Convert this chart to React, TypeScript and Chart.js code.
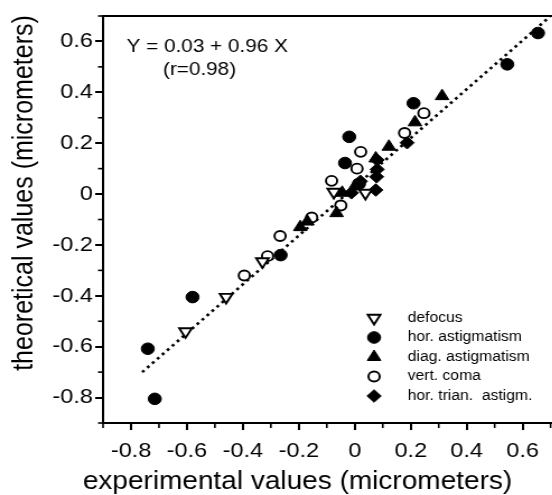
import React, { useEffect, useRef } from 'react';
import { Chart, registerables } from 'chart.js';

Chart.register(...registerables);

// ---- data ----
const defocusX = [-0.605, -0.46, -0.33, -0.075, 0.038];
const defocusY = [-0.54, -0.405, -0.265, 0.008, 0.004];

const horAstigX = [-0.74, -0.715, -0.58, -0.265, -0.035, -0.02, 0.015, 0.21, 0.545, 0.655];
const horAstigY = [-0.608, -0.805, -0.405, -0.24, 0.122, 0.225, 0.04, 0.357, 0.51, 0.633];

const diagAstigX = [-0.195, -0.17, -0.065, -0.045, 0.0, 0.075, 0.122, 0.215, 0.312];
const diagAstigY = [-0.13, -0.108, -0.075, 0.005, 0.03, 0.14, 0.186, 0.282, 0.385];

const vertComaX = [-0.395, -0.312, -0.267, -0.154, -0.083, -0.05, 0.008, 0.021, 0.178, 0.247];
const vertComaY = [-0.32, -0.244, -0.165, -0.092, 0.052, -0.045, 0.1, 0.166, 0.24, 0.318];

const horTrianX = [-0.012, 0.02, 0.075, 0.078, 0.08, 0.08, 0.187];
const horTrianY = [0.005, 0.05, 0.016, 0.068, 0.097, 0.134, 0.202];

const fitX = [-0.76, 0.7];
const fitY = [-0.7, 0.7];

const legendLabels = ['defocus', 'hor. astigmatism', 'diag. astigmatism', 'vert. coma', 'hor. trian.  astigm.'];

const xMajorTicks = [-0.8, -0.6, -0.4, -0.2, 0, 0.2, 0.4, 0.6];
const yMajorTicks = [-0.8, -0.6, -0.4, -0.2, 0, 0.2, 0.4, 0.6];
const xMinorTicks = [-0.9, -0.7, -0.5, -0.3, -0.1, 0.1, 0.3, 0.5, 0.7];
const yMinorTicks = [-0.9, -0.7, -0.5, -0.3, -0.1, 0.1, 0.3, 0.5, 0.7];

const equationText = 'Y = 0.03 + 0.96 X';
const corrText = '(r=0.98)';
const xTitle = 'experimental values (micrometers)';
const yTitle = 'theoretical values (micrometers)';

// ---- layout / style ----
const FONT = '"Liberation Sans", Arial, Helvetica, sans-serif';
const CW = 500;
const CH = 495;
const STRETCH = 1.12;

const toPts = (xs: number[], ys: number[]) => xs.map((x, i) => ({ x, y: ys[i] }));

type Marker = { style: string; r: number; fill: boolean; rot: number; bw: number };
const markers: Marker[] = [
  { style: 'triangle', r: 6.5, fill: false, rot: 180, bw: 1.9 },
  { style: 'circle', r: 5.8, fill: true, rot: 0, bw: 1 },
  { style: 'triangle', r: 7, fill: true, rot: 0, bw: 1 },
  { style: 'circle', r: 5, fill: false, rot: 0, bw: 1.9 },
  { style: 'rectRot', r: 6.3, fill: true, rot: 0, bw: 1 },
];

function drawMarker(ctx: CanvasRenderingContext2D, m: Marker, x: number, y: number) {
  ctx.save();
  ctx.beginPath();
  if (m.style === 'circle') {
    ctx.arc(x, y, m.r, 0, Math.PI * 2);
  } else if (m.style === 'triangle') {
    let rad = (m.rot * Math.PI) / 180;
    ctx.moveTo(x + Math.sin(rad) * m.r, y - Math.cos(rad) * m.r);
    rad += (2 * Math.PI) / 3;
    ctx.lineTo(x + Math.sin(rad) * m.r, y - Math.cos(rad) * m.r);
    rad += (2 * Math.PI) / 3;
    ctx.lineTo(x + Math.sin(rad) * m.r, y - Math.cos(rad) * m.r);
    ctx.closePath();
  } else {
    ctx.moveTo(x - m.r, y);
    ctx.lineTo(x, y - m.r);
    ctx.lineTo(x + m.r, y);
    ctx.lineTo(x, y + m.r);
    ctx.closePath();
  }
  ctx.fillStyle = m.fill ? '#000' : '#fff';
  ctx.fill();
  ctx.lineWidth = m.bw;
  ctx.strokeStyle = '#000';
  ctx.stroke();
  ctx.restore();
}

const decorPlugin = {
  id: 'decor',
  afterDraw(chart: any) {
    const ctx: CanvasRenderingContext2D = chart.ctx;
    const { chartArea } = chart;
    const xs = chart.scales.x;
    const ys = chart.scales.y;
    ctx.save();
    ctx.strokeStyle = '#000';
    ctx.fillStyle = '#000';
    // top frame
    ctx.lineWidth = 2;
    ctx.beginPath();
    ctx.moveTo(chartArea.left - 1, chartArea.top);
    ctx.lineTo(chartArea.right + 2, chartArea.top);
    ctx.stroke();
    // minor ticks
    ctx.lineWidth = 1.6;
    xMinorTicks.forEach((v) => {
      const px = xs.getPixelForValue(v);
      ctx.beginPath();
      ctx.moveTo(px, chartArea.bottom);
      ctx.lineTo(px, chartArea.bottom + 5);
      ctx.stroke();
    });
    yMinorTicks.forEach((v) => {
      const py = ys.getPixelForValue(v);
      ctx.beginPath();
      ctx.moveTo(chartArea.left, py);
      ctx.lineTo(chartArea.left - 4.5, py);
      ctx.stroke();
    });
    // equation
    ctx.font = `18.5px ${FONT}`;
    ctx.textAlign = 'left';
    ctx.textBaseline = 'middle';
    ctx.fillText(equationText, 113, 47);
    ctx.fillText(corrText, 145.5, 70);
    // legend
    const rows = [318, 337.5, 357, 376.5, 396];
    ctx.font = `14px ${FONT}`;
    legendLabels.forEach((label, i) => {
      drawMarker(ctx, markers[i], 334, rows[i]);
      ctx.fillStyle = '#000';
      ctx.fillText(label, 364, rows[i]);
    });
    // axis titles
    ctx.font = `25px ${FONT}`;
    ctx.textAlign = 'center';
    ctx.textBaseline = 'alphabetic';
    ctx.fillText(xTitle, 265.6, 489);
    ctx.translate(28.6, 193);
    ctx.rotate(-Math.PI / 2);
    ctx.fillText(yTitle, 0, 0);
    ctx.restore();
  },
};

const fmt = (v: number) => (Math.abs(v) < 1e-9 ? '0' : Number(v).toFixed(1));

export default function App() {
  const ref = useRef<HTMLCanvasElement | null>(null);
  useEffect(() => {
    if (!ref.current) return;
    document.body.style.margin = '0';
    const ds = (label: string, xs: number[], ys: number[], m: Marker) => ({
      label,
      data: toPts(xs, ys),
      pointStyle: m.style,
      pointRadius: m.r,
      pointRotation: m.rot,
      pointBackgroundColor: m.fill ? '#000' : '#fff',
      pointBorderColor: '#000',
      pointBorderWidth: m.bw,
      showLine: false,
    });
    const chart = new Chart(ref.current, {
      type: 'scatter',
      data: {
        datasets: [
          ds(legendLabels[0], defocusX, defocusY, markers[0]),
          ds(legendLabels[1], horAstigX, horAstigY, markers[1]),
          ds(legendLabels[2], diagAstigX, diagAstigY, markers[2]),
          ds(legendLabels[3], vertComaX, vertComaY, markers[3]),
          ds(legendLabels[4], horTrianX, horTrianY, markers[4]),
          {
            label: 'fit',
            data: toPts(fitX, fitY),
            showLine: true,
            pointRadius: 0,
            borderColor: '#000',
            borderWidth: 2.6,
            borderDash: [2.6, 3.6],
            fill: false,
          } as any,
        ],
      },
      options: {
        responsive: false,
        animation: false,
        devicePixelRatio: 1,
        layout: { padding: { top: 16, right: 2, left: 0, bottom: 0 } },
        plugins: { legend: { display: false }, tooltip: { enabled: false } },
        scales: {
          x: {
            type: 'linear',
            min: -0.9,
            max: 0.7,
            afterBuildTicks: (s: any) => {
              s.ticks = xMajorTicks.map((v) => ({ value: v }));
            },
            afterFit: (s: any) => {
              s.height = 72;
            },
            border: { display: true, color: '#000', width: 2 },
            grid: { display: true, drawOnChartArea: false, drawTicks: true, tickLength: 7, color: '#000', lineWidth: 2 },
            ticks: {
              autoSkip: false,
              maxRotation: 0,
              padding: 9,
              color: '#000',
              font: { family: FONT, size: 21 },
              callback: (v: any) => fmt(Number(v)),
            },
          },
          y: {
            type: 'linear',
            min: -0.9,
            max: 0.7,
            afterBuildTicks: (s: any) => {
              s.ticks = yMajorTicks.map((v) => ({ value: v }));
            },
            afterFit: (s: any) => {
              s.width = 92;
            },
            border: { display: true, color: '#000', width: 2 },
            grid: { display: true, drawOnChartArea: false, drawTicks: true, tickLength: 7, color: '#000', lineWidth: 2 },
            ticks: {
              autoSkip: false,
              padding: 2,
              color: '#000',
              font: { family: FONT, size: 21 },
              callback: (v: any) => fmt(Number(v)),
            },
          },
        },
      },
      plugins: [decorPlugin],
    } as any);
    return () => chart.destroy();
  }, []);
  return (
    <div style={{ position: 'fixed', left: 0, top: 0, width: 552, height: 495, overflow: 'hidden', background: '#fff' }}>
      <canvas
        ref={ref}
        width={CW}
        height={CH}
        style={{ display: 'block', width: `${CW * STRETCH}px`, height: `${CH}px` }}
      />
    </div>
  );
}
